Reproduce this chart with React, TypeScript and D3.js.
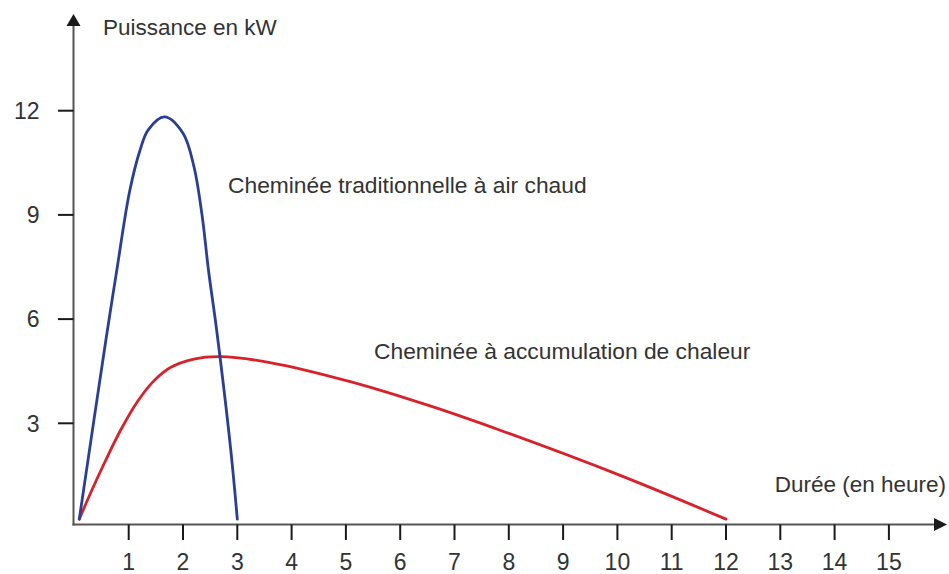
import React from 'react';
import * as d3 from 'd3';

// hours on the x axis, power (kW) on the y axis
const xTicks = [1, 2, 3, 4, 5, 6, 7, 8, 9, 10, 11, 12, 13, 14, 15];
const yTicks = [3, 6, 9, 12];

// Cheminée traditionnelle (blue)
const tradHours = [0.09, 0.58, 0.78, 1.02, 1.21, 1.36, 1.66, 2.0, 2.2, 2.35, 2.47, 2.62, 2.88, 3.0];
const tradPower = [0.24, 5.4, 7.4, 9.7, 10.87, 11.45, 11.82, 11.35, 10.4, 9.0, 7.4, 5.68, 2.23, 0.24];

// Cheminée à accumulation (red)
const accuHours = [0.09, 0.3, 0.55, 0.85, 1.15, 1.45, 1.76, 2.2, 2.68, 3.6, 5.08, 6.55, 7.84, 10.05, 12.0];
const accuPower = [0.24, 1.0, 1.85, 2.8, 3.6, 4.2, 4.6, 4.85, 4.92, 4.75, 4.2, 3.5, 2.8, 1.5, 0.24];

const width = 949;
const height = 574;
const font = '"Liberation Sans", Arial, sans-serif';
const textColor = '#333';

const App: React.FC = () => {
  const x = d3.scaleLinear().domain([0, 12]).range([74.4, 726]);
  const y = d3.scaleLinear().domain([0, 12]).range([527.5, 110.7]);

  const axisX = 73.5; // y axis position
  const axisY = 524.5; // x axis position

  const line = d3
    .line<[number, number]>()
    .x((d) => x(d[0]))
    .y((d) => y(d[1]))
    .curve(d3.curveCatmullRom.alpha(0.5));

  const trad = tradHours.map((h, i) => [h, tradPower[i]] as [number, number]);
  const accu = accuHours.map((h, i) => [h, accuPower[i]] as [number, number]);

  return (
    <svg
      width={width}
      height={height}
      style={{ position: 'absolute', left: 0, top: 0, background: '#fff' }}
    >
      {/* axes */}
      <line x1={axisX} y1={24} x2={axisX} y2={axisY + 1} stroke="#555" strokeWidth={2} />
      <line x1={axisX - 1} y1={axisY} x2={936} y2={axisY} stroke="#555" strokeWidth={2} />
      <path d={`M${axisX},14 L${axisX - 7},26 L${axisX + 7},26 Z`} fill="#1a1a1a" />
      <path d={`M947,${axisY} L934,${axisY - 6.5} L934,${axisY + 6.5} Z`} fill="#1a1a1a" />

      {/* x ticks */}
      {xTicks.map((t) => (
        <g key={`x${t}`}>
          <line x1={x(t)} x2={x(t)} y1={axisY} y2={540} stroke="#1a1a1a" strokeWidth={2} />
          <text
            x={x(t)}
            y={570}
            textAnchor="middle"
            fontFamily={font}
            fontSize={23}
            fill={textColor}
          >
            {t}
          </text>
        </g>
      ))}

      {/* y ticks */}
      {yTicks.map((t) => (
        <g key={`y${t}`}>
          <line x1={58} x2={axisX} y1={y(t)} y2={y(t)} stroke="#1a1a1a" strokeWidth={2} />
          <text
            x={39.5}
            y={y(t)}
            dy="0.36em"
            textAnchor="end"
            fontFamily={font}
            fontSize={23}
            fill={textColor}
          >
            {t}
          </text>
        </g>
      ))}

      {/* axis titles */}
      <text x={103} y={35} fontFamily={font} fontSize={22.5} fill={textColor}>
        Puissance en kW
      </text>
      <text x={946} y={492} textAnchor="end" fontFamily={font} fontSize={22.5} fill={textColor}>
        Durée (en heure)
      </text>

      {/* curves */}
      <path d={line(accu) ?? ''} fill="none" stroke="#d7222c" strokeWidth={2.8} strokeLinecap="round" />
      <path d={line(trad) ?? ''} fill="none" stroke="#2a3e96" strokeWidth={2.8} strokeLinecap="round" />

      {/* curve labels */}
      <text x={228} y={193} fontFamily={font} fontSize={22.8} fill={textColor}>
        Cheminée traditionnelle à air chaud
      </text>
      <text x={374} y={359} fontFamily={font} fontSize={22.8} fill={textColor}>
        Cheminée à accumulation de chaleur
      </text>
    </svg>
  );
};

export default App;
